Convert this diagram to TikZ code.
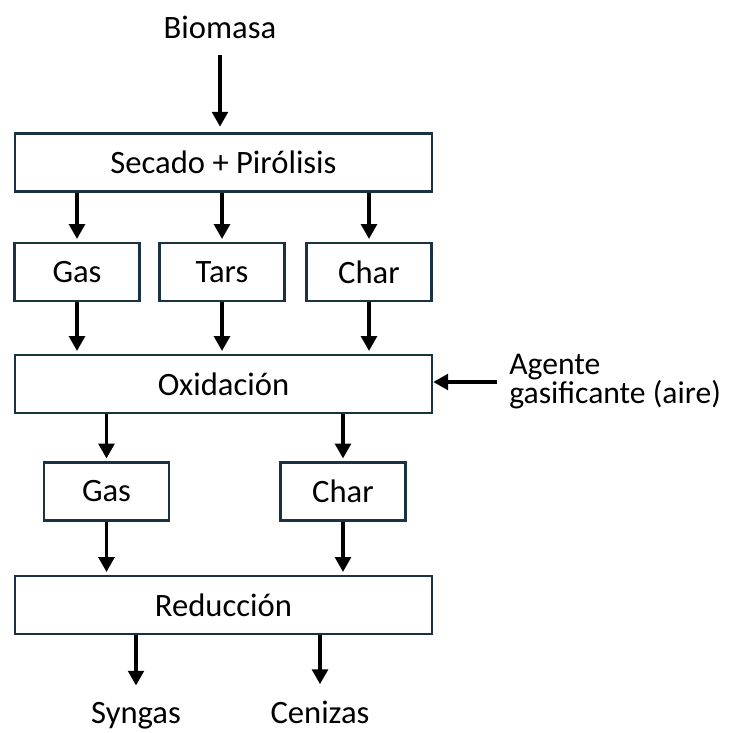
\documentclass[tikz,border=0pt]{standalone}
\usepackage{fontspec}
\setmainfont{Carlito}
\usetikzlibrary{arrows.meta}
\definecolor{borde}{HTML}{1A3344}
\tikzset{
  caja/.style={draw=borde, line width=1.7pt, inner sep=0pt, minimum height=1.45cm},
  cajaancha/.style={caja, minimum width=10.425cm},
  cajachica/.style={caja, minimum width=3.125cm},
  texto/.style={inner sep=0pt, anchor=base},
  flecha/.style={-{Triangle[width=0.39cm,length=0.37cm]}, line width=2.5pt, shorten >=2pt},
}

\begin{document}
\begin{tikzpicture}[x=0.025cm, y=-0.025cm, font=\fontsize{23.2pt}{27pt}\selectfont]
  \useasboundingbox (0,0) rectangle (729,733);

  \node[texto] (bio) at (220,38) {Biomasa};
  \node[cajaancha] (sec) at (223.5,162.5) {Secado + Pirólisis};

  \node[cajachica] (gas1) at (77,272) {Gas};
  \node[cajachica] (tars) at (222,272) {Tars};
  \node[cajachica] (char1) at (369,272) {Char};

  \node[cajaancha] (oxi) at (223.5,384) {Oxidación};
  \node[anchor=west, align=left, inner xsep=0.3cm, inner ysep=0pt,
        font=\fontsize{22.5pt}{20.6pt}\selectfont] (agente) at (497,382) {Agente\\gasificante (aire)};

  \node[cajachica] (gas2) at (106.5,491.5) {Gas};
  \node[cajachica] (char2) at (343,491.5) {Char};

  \node[cajaancha] (red) at (223.5,605) {Reducción};
  \node[texto] (syn) at (136,723) {Syngas};
  \node[texto] (cen) at (320,723) {Cenizas};

  % flechas
  \draw[flecha, shorten <=0.42cm, shorten >=4pt] (bio.south) -- (bio.south |- sec.north);
  \foreach \n in {gas1,tars,char1}{
    \draw[flecha] (sec.south -| \n.north) -- (\n.north);
    \draw[flecha] (\n.south) -- (\n.south |- oxi.north);
  }
  \draw[flecha, shorten >=0pt] (agente.west) -- (agente.west -| oxi.east);
  \foreach \n in {gas2,char2}{
    \draw[flecha] (oxi.south -| \n.north) -- (\n.north);
    \draw[flecha] (\n.south) -- (\n.south |- red.north);
  }
  \draw[flecha, shorten >=0.4cm] (red.south -| syn.north) -- (syn.north);
  \draw[flecha, shorten >=0.4cm] (red.south -| cen.north) -- (cen.north);
\end{tikzpicture}
\end{document}
